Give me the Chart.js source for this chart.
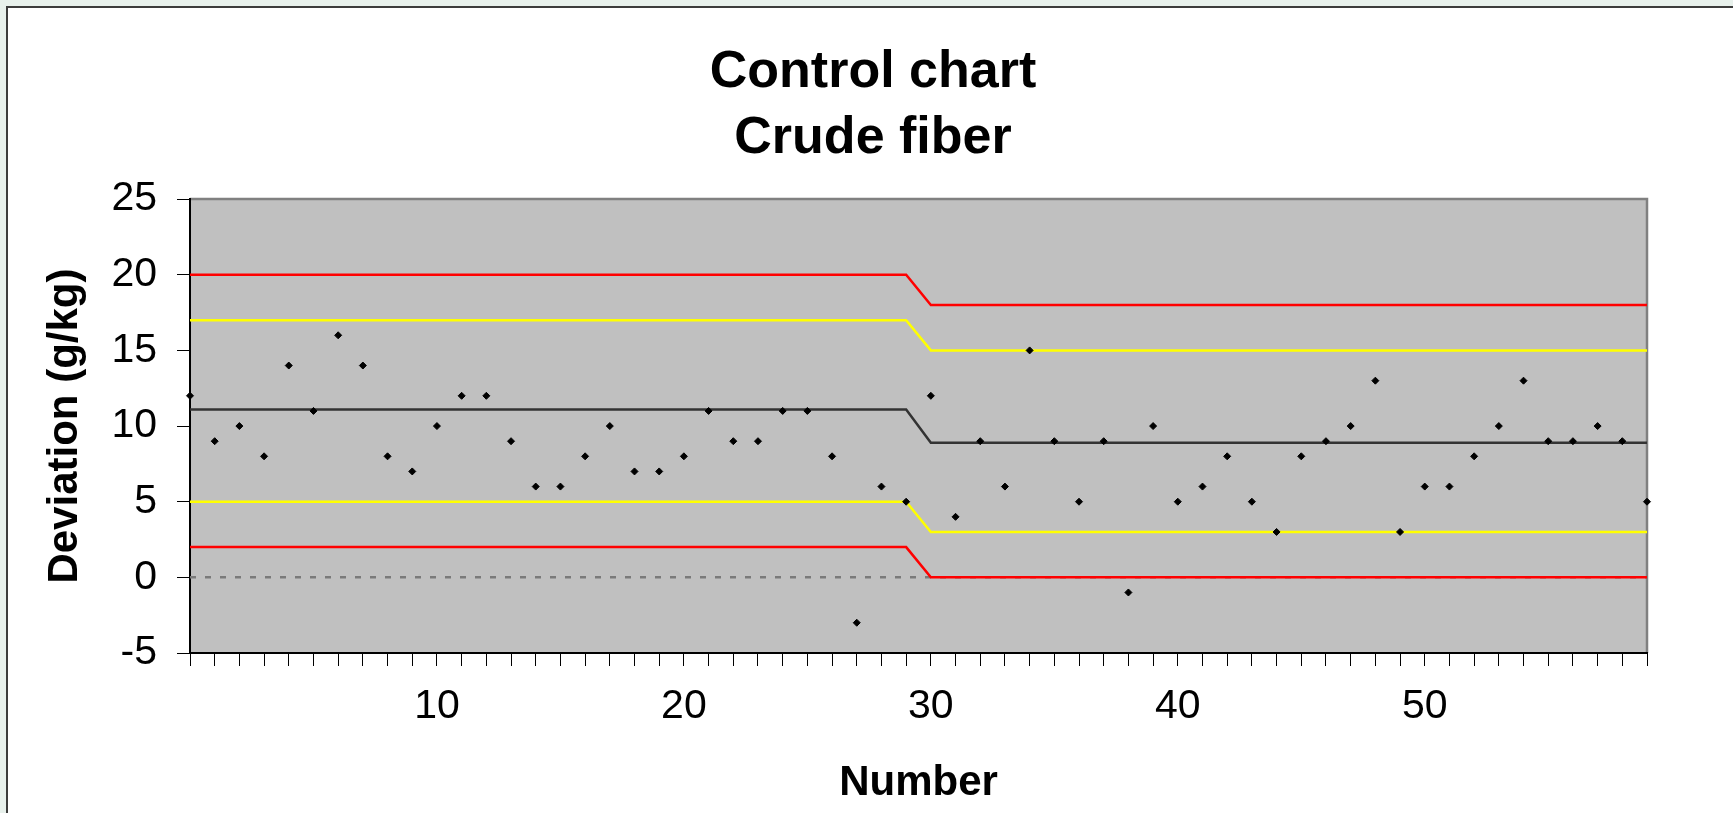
<!DOCTYPE html>
<html lang="en">
<head>
<meta charset="UTF-8">
<title>Control chart - Crude fiber</title>
<style>
    html, body { margin: 0; padding: 0; overflow: hidden; }
    body { width: 1733px; height: 813px; background: #e8f1ec; position: relative; }
    .frame {
        position: absolute; left: 6px; top: 6px; width: 1740px; height: 820px;
        background: #ffffff; border-left: 2px solid #3c3c3c; border-top: 2px solid #3c3c3c;
    }
    #controlChart { position: absolute; left: 0; top: 0; }
</style>
</head>
<body>
<div class="frame"></div>
<canvas id="controlChart" width="1733" height="813"></canvas>

<script src="https://cdn.jsdelivr.net/npm/chart.js"></script>
<script>
    // sample number (x axis)
    const numbers = [0, 1, 2, 3, 4, 5, 6, 7, 8, 9,
        10, 11, 12, 13, 14, 15, 16, 17, 18, 19,
        20, 21, 22, 23, 24, 25, 26, 27, 28, 29,
        30, 31, 32, 33, 34, 35, 36, 37, 38, 39,
        40, 41, 42, 43, 44, 45, 46, 47, 48, 49,
        50, 51, 52, 53, 54, 55, 56, 57, 58, 59];
    // measured deviation (g/kg)
    const deviation = [12, 9, 10, 8, 14, 11, 16, 14, 8, 7,
        10, 12, 12, 9, 6, 6, 8, 10, 7, 7,
        8, 11, 9, 9, 11, 11, 8, -3, 6, 5,
        12, 4, 9, 6, 15, 9, 5, 9, -1, 10,
        5, 6, 8, 5, 3, 8, 9, 10, 13, 3,
        6, 6, 8, 10, 13, 9, 9, 10, 9, 5];

    // control limits, they change between sample 29 and 30
    const limitX = [0, 29, 30, 59];
    const upperControl = [20, 20, 18, 18];
    const upperWarning = [17, 17, 15, 15];
    const centerLine = [11.1, 11.1, 8.9, 8.9];
    const lowerWarning = [5, 5, 3, 3];
    const lowerControl = [2, 2, 0, 0];
    const zeroX = [0, 59];
    const zeroLine = [0, 0];

    const xLabels = [10, 20, 30, 40, 50];
    const yTicks = [-5, 0, 5, 10, 15, 20, 25];

    const FONT = '"Liberation Sans", Arial, sans-serif';

    const toPoints = (xs, ys) => xs.map((x, i) => ({ x: x, y: ys[i] }));
    const limitLine = (label, values, color) => ({
        label: label,
        data: toPoints(limitX, values),
        borderColor: color,
        borderWidth: 2.5,
        pointRadius: 0,
        fill: false,
        tension: 0
    });

    // grey plot area with grey top/right border, like the spreadsheet chart
    const plotArea = {
        id: 'plotArea',
        beforeDraw(chart) {
            const { ctx, chartArea: a } = chart;
            ctx.save();
            ctx.fillStyle = '#c0c0c0';
            ctx.fillRect(a.left, a.top, a.right - a.left, a.bottom - a.top);
            ctx.strokeStyle = '#808080';
            ctx.lineWidth = 2.5;
            ctx.beginPath();
            ctx.moveTo(a.left, a.top);
            ctx.lineTo(a.right, a.top);
            ctx.lineTo(a.right, a.bottom);
            ctx.stroke();
            ctx.restore();
        }
    };

    const config = {
        type: 'line',
        data: {
            datasets: [
                {
                    label: 'Deviation',
                    data: toPoints(numbers, deviation),
                    showLine: false,
                    pointStyle: 'rectRot',
                    pointRadius: 3.5,
                    pointBorderWidth: 1,
                    pointBackgroundColor: '#000000',
                    pointBorderColor: '#000000',
                    clip: false
                },
                limitLine('Upper control limit', upperControl, '#ff0000'),
                limitLine('Upper warning limit', upperWarning, '#ffff00'),
                limitLine('Mean', centerLine, '#333333'),
                limitLine('Lower warning limit', lowerWarning, '#ffff00'),
                limitLine('Lower control limit', lowerControl, '#ff0000'),
                {
                    label: 'Zero',
                    data: toPoints(zeroX, zeroLine),
                    borderColor: '#7a7a7a',
                    borderWidth: 2.5,
                    borderDash: [6, 9],
                    pointRadius: 0,
                    fill: false
                }
            ]
        },
        options: {
            responsive: false,
            animation: false,
            layout: { padding: { left: 13, right: 0, top: 0, bottom: 0 } },
            plugins: {
                legend: { display: false },
                tooltip: { enabled: false },
                title: {
                    display: true,
                    text: ['Control chart', 'Crude fiber'],
                    color: '#000000',
                    font: { family: FONT, size: 52, weight: 'bold', lineHeight: 1.28 },
                    padding: { top: 39, bottom: 27 }
                }
            },
            scales: {
                x: {
                    type: 'linear',
                    min: 0,
                    max: 59,
                    afterBuildTicks: (s) => { s.ticks = numbers.map(v => ({ value: v })); },
                    afterFit: (s) => { s.height = 160; },
                    ticks: {
                        autoSkip: false,
                        maxRotation: 0,
                        padding: 16,
                        color: '#000000',
                        font: { family: FONT, size: 41 },
                        callback: (v) => xLabels.includes(v) ? String(v) : ''
                    },
                    grid: { drawOnChartArea: false, drawTicks: true, tickLength: 13, color: '#000000', lineWidth: 1 },
                    border: { display: true, color: '#000000', width: 2 },
                    title: {
                        display: true,
                        text: 'Number',
                        color: '#000000',
                        font: { family: FONT, size: 42, weight: 'bold' },
                        padding: { top: 0, bottom: 4 }
                    }
                },
                y: {
                    min: -5,
                    max: 25,
                    afterBuildTicks: (s) => { s.ticks = yTicks.map(v => ({ value: v })); },
                    afterFit: (s) => { s.width = 177; },
                    ticks: {
                        padding: 20,
                        color: '#000000',
                        font: { family: FONT, size: 41 }
                    },
                    grid: { drawOnChartArea: false, drawTicks: true, tickLength: 13, color: '#000000', lineWidth: 1 },
                    border: { display: true, color: '#000000', width: 2 },
                    title: {
                        display: true,
                        text: 'Deviation (g/kg)',
                        color: '#000000',
                        font: { family: FONT, size: 42, weight: 'bold' },
                        padding: { top: 27, bottom: 0 }
                    }
                },
                // empty right axis, only keeps the white margin on the right
                yRight: {
                    position: 'right',
                    min: -5,
                    max: 25,
                    afterFit: (s) => { s.width = 86; },
                    ticks: { display: false },
                    grid: { display: false },
                    border: { display: false }
                }
            }
        },
        plugins: [plotArea]
    };

    const ctx = document.querySelector('#controlChart');
    const controlChart = new Chart(ctx, config);
</script>
</body>
</html>
